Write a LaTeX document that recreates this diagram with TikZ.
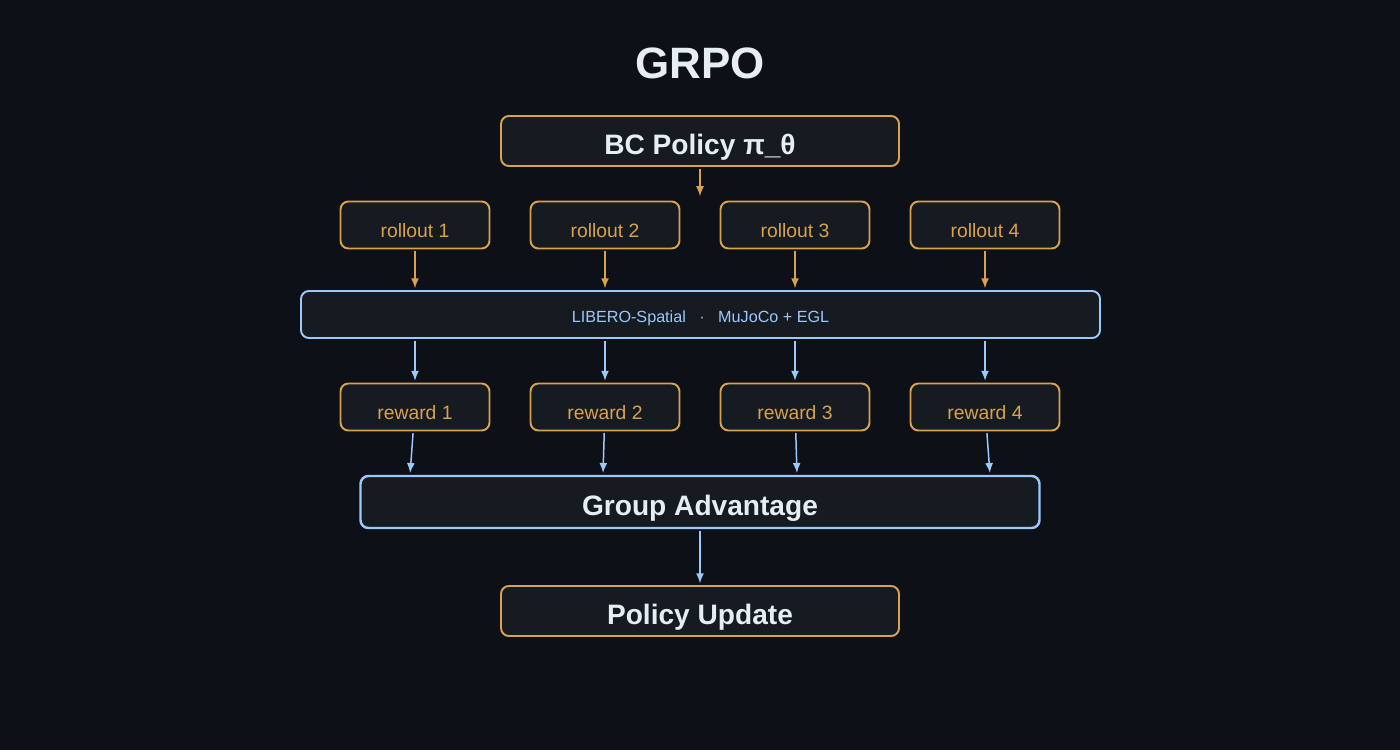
\documentclass[tikz,border=0pt]{standalone}
\usepackage{fontspec}
\setmainfont{Liberation Sans}
\usetikzlibrary{arrows.meta}
\definecolor{bgdark}{HTML}{0D1017}
\definecolor{boxfill}{HTML}{161B22}
\definecolor{gold}{HTML}{D9A24C}
\definecolor{skyblue}{HTML}{9CC8FA}
\definecolor{paper}{HTML}{E6EDF3}
\tikzset{
  box/.style={draw, fill=boxfill, rounded corners=4.5pt, line width=1.1pt, inner sep=0pt, text depth=0pt},
  goldbox/.style={box, draw=gold},
  bluebox/.style={box, draw=skyblue},
  bigtext/.style={text=paper, font=\bfseries\fontsize{16}{19}\selectfont, text height=15pt},
  smalltext/.style={text=gold, font=\fontsize{11}{13}\selectfont, text height=14pt},
  goldarr/.style={draw=gold, line width=0.85pt, -{Latex[length=2mm,width=1.6mm]}, shorten <=1pt, shorten >=1pt},
  bluearr/.style={goldarr, draw=skyblue},
}
\begin{document}
\begin{tikzpicture}[x=0.02cm,y=-0.02cm]
\fill[bgdark] (0,0) rectangle (1400,750);
\useasboundingbox (0,0) rectangle (1400,750);
\node[text=paper, font=\bfseries\fontsize{25}{28}\selectfont, text depth=0pt] (title) at (700,63) {GRPO};
\node[goldbox, bigtext, minimum width=398*0.02cm, minimum height=50*0.02cm] (bc) at (700,141) {BC Policy π\_θ};
\coordinate (fan) at (700,198);
\draw[goldarr] (bc) -- (fan);
% rollouts and rewards
\foreach \i/\x in {1/415,2/605,3/795,4/985} {
  \node[goldbox, smalltext, minimum width=149*0.02cm, minimum height=47*0.02cm] (ro\i) at (\x,225) {rollout \i};
  \node[goldbox, smalltext, minimum width=149*0.02cm, minimum height=47*0.02cm] (rw\i) at (\x,407) {reward \i};
}
\node[bluebox, minimum width=799*0.02cm, minimum height=47*0.02cm, text=skyblue, font=\fontsize{9.2}{11}\selectfont, text height=8.6pt] (env) at (700.5,314.5) {LIBERO-Spatial\ \ \ ·\ \ \ MuJoCo + EGL};
\node[bluebox, bigtext, line width=1.4pt, minimum width=679*0.02cm, minimum height=52*0.02cm] (group) at (700,502) {Group Advantage};
\node[goldbox, bigtext, minimum width=398*0.02cm, minimum height=50*0.02cm] (update) at (700,611) {Policy Update};
\foreach \i/\x in {1/410,2/603,3/797,4/990} {
  \draw[goldarr] (ro\i) -- (ro\i |- env.north);
  \draw[bluearr] (ro\i |- env.south) -- (rw\i);
  \draw[bluearr] (rw\i) -- (group.north -| \x,0);
}
\draw[bluearr] (group) -- (update);
\end{tikzpicture}
\end{document}
